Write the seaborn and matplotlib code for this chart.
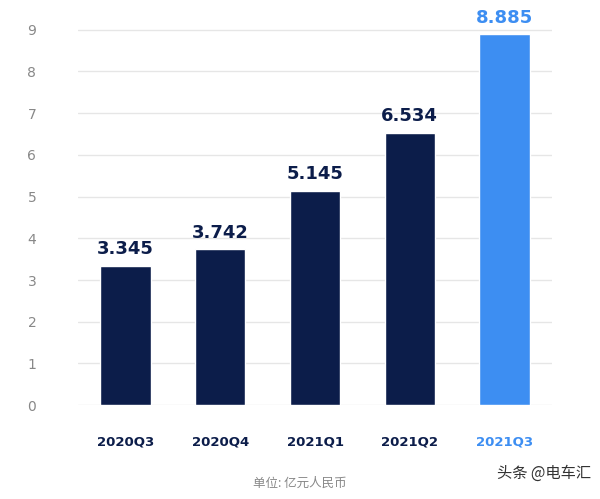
import matplotlib
matplotlib.use("Agg")
import matplotlib.pyplot as plt
import seaborn as sns
import pandas as pd

quarters = ["2020Q3", "2020Q4", "2021Q1", "2021Q2", "2021Q3"]
revenue = [3.345, 3.742, 5.145, 6.534, 8.885]
labels = ["3.345", "3.742", "5.145", "6.534", "8.885"]

navy = "#0c1d4a"
blue = "#3d8ef2"
colors = [navy, navy, navy, navy, blue]

sns.set_style("white")
plt.rcParams['font.family'] = ['DejaVu Sans', 'Noto Sans CJK SC']

df = pd.DataFrame({"quarter": quarters, "revenue": revenue})

fig = plt.figure(figsize=(6, 4.99), dpi=100)
ax = fig.add_axes([0.13, 0.188, 0.79, 0.786])
sns.barplot(data=df, x="quarter", y="revenue", hue="quarter", palette=colors,
            legend=False, width=0.53, saturation=1, ax=ax, zorder=3)

ax.set_ylim(0, 9.4)
ax.set_yticks(range(10))
ax.grid(axis="y", color="#e6e6e6", linewidth=1, zorder=0)
for s in ax.spines.values():
    s.set_visible(False)
ax.tick_params(axis="y", length=0, labelsize=10, labelcolor="#888888", pad=30)
ax.tick_params(axis="x", length=0, pad=22)
ax.set_xlabel("")
ax.set_ylabel("")
for t, c in zip(ax.get_xticklabels(), colors):
    t.set_color(c)
    t.set_fontweight("bold")
    t.set_fontsize(9.5)

for i, (v, lab, c) in enumerate(zip(revenue, labels, colors)):
    ax.text(i, v + 0.18, lab, ha="center", va="bottom", fontsize=13,
            fontweight="bold", color=c)

cjk = ['Noto Sans CJK SC', 'DejaVu Sans']
fig.text(0.5, 0.018, "单位: 亿元人民币", ha="center", va="bottom",
         fontsize=9, color="#888888", family=cjk)
fig.text(0.985, 0.035, "头条 @电车汇", ha="right", va="bottom",
         fontsize=11, color="#333333", family=cjk)

fig.savefig("out.png", dpi=100)
